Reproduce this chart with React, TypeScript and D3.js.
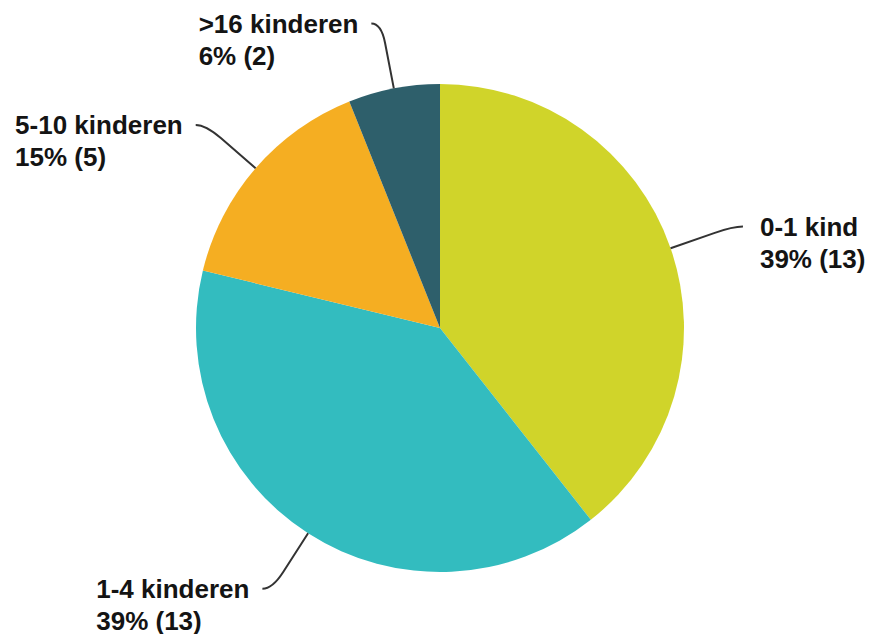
import * as d3 from "d3";
import React from "react";

const categories = ["0-1 kind", "1-4 kinderen", "5-10 kinderen", ">16 kinderen"];
const counts = [13, 13, 5, 2];
const percentLabels = ["39% (13)", "39% (13)", "15% (5)", "6% (2)"];
const colors = ["#d0d42a", "#33bcbf", "#f5ae22", "#2e5f6b"];

type Slice = d3.PieArcDatum<number>;

const W = 869;
const H = 634;
const cx = 440;
const cy = 328;
const radius = 244;
const fontSize = 26;
const lineGap = 32;
const fontFamily = "'Liberation Sans', Arial, sans-serif";

let ctx: CanvasRenderingContext2D | null = null;
const textWidth = (s: string) => {
  if (!ctx) ctx = document.createElement("canvas").getContext("2d");
  if (!ctx) return s.length * fontSize * 0.55;
  ctx.font = `bold ${fontSize}px ${fontFamily}`;
  return ctx.measureText(s).width;
};

export default function App() {
  const pie = d3.pie<number>().sort(null).value((d) => d);
  const arcs: Slice[] = pie(counts);
  const arc = d3.arc<Slice>().innerRadius(0).outerRadius(radius);

  // point on a ray from the centre (angle clockwise from 12 o'clock)
  const at = (a: number, r: number): [number, number] => [Math.sin(a) * r, -Math.cos(a) * r];

  return (
    <svg
      width={W}
      height={H}
      style={{ position: "absolute", left: 0, top: 0, background: "#fff" }}
      fontFamily={fontFamily}
    >
      <g transform={`translate(${cx},${cy})`}>
        {arcs.map((d, i) => (
          <path key={i} d={arc(d) ?? ""} fill={colors[i]} />
        ))}
        {arcs.map((d, i) => {
          const mid = (d.startAngle + d.endAngle) / 2;
          const right = Math.sin(mid) > 0;
          const p0 = at(mid, radius);
          const p1 = at(mid, radius + 46);
          const bend = at(mid, radius + 66);
          const end: [number, number] = [bend[0] + (right ? 10 : -10), bend[1]];
          const path = d3.path();
          path.moveTo(p0[0], p0[1]);
          path.lineTo(p1[0], p1[1]);
          path.quadraticCurveTo(bend[0], bend[1], end[0], end[1]);
          const tx = right ? end[0] + 17 : end[0] - 13 - textWidth(categories[i]);
          const ty = end[1] + 9;
          return (
            <g key={`l${i}`}>
              <path d={path.toString()} fill="none" stroke="#333" strokeWidth={2} />
              <text x={tx} y={ty} fontSize={fontSize} fontWeight="bold" fill="#141414">
                <tspan x={tx}>{categories[i]}</tspan>
                <tspan x={tx} dy={lineGap}>
                  {percentLabels[i]}
                </tspan>
              </text>
            </g>
          );
        })}
      </g>
    </svg>
  );
}
